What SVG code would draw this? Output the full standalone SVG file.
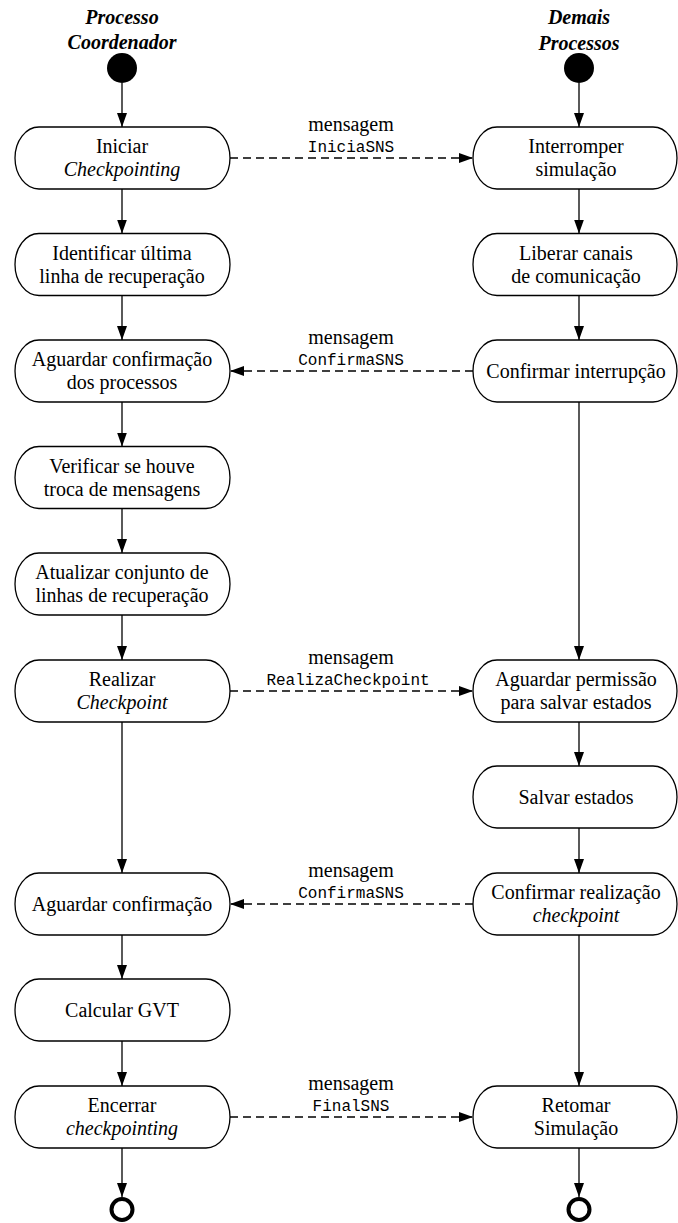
<svg xmlns="http://www.w3.org/2000/svg" width="678" height="1223" viewBox="0 0 678 1223">
  <style>
    .node { fill: #fff; stroke: #000; stroke-width: 1.3; }
    .txt { font-family: "Liberation Serif", "Times New Roman", serif; font-size: 20px; fill: #000; text-anchor: middle; }
    .it { font-style: italic; }
    .title { font-family: "Liberation Serif", "Times New Roman", serif; font-size: 20px; font-weight: bold; font-style: italic; text-anchor: middle; fill: #000; }
    .mono { font-family: "Liberation Mono", "Courier New", monospace; font-size: 16px; text-anchor: middle; fill: #000; }
    .flow { stroke: #000; stroke-width: 1.3; fill: none; marker-end: url(#arrow); }
    .msg { stroke: #000; stroke-width: 1.6; fill: none; stroke-dasharray: 8 5; marker-end: url(#arrow); }
  </style>
  <defs>
    <marker id="arrow" markerUnits="userSpaceOnUse" markerWidth="14" markerHeight="10" refX="14" refY="5" orient="auto">
      <path d="M0,0 L14,5 L0,10 Z" fill="#000"/>
    </marker>
  </defs>
  <rect width="678" height="1223" fill="#fff"/>

  <!-- lane titles -->
  <g id="title-coordenador">
    <text class="title" x="122" y="24">Processo</text>
    <text class="title" x="122" y="49">Coordenador</text>
  </g>
  <g id="title-demais">
    <text class="title" x="579" y="24">Demais</text>
    <text class="title" x="579" y="50">Processos</text>
  </g>

  <!-- initial states -->
  <g id="start-left"><circle cx="122" cy="68" r="15" fill="#000"/></g>
  <g id="start-right"><circle cx="579" cy="68" r="15" fill="#000"/></g>

  <!-- coordinator activities (left lane) -->
  <g id="iniciar">
    <rect class="node" x="15" y="127" width="215" height="62" rx="24" ry="31"/>
    <text class="txt" x="122" y="153">Iniciar</text>
    <text class="txt it" x="122" y="176">Checkpointing</text>
  </g>
  <g id="identificar">
    <rect class="node" x="15" y="233.5" width="215" height="62" rx="24" ry="31"/>
    <text class="txt" x="122" y="259.5">Identificar última</text>
    <text class="txt" x="122" y="282.5">linha de recuperação</text>
  </g>
  <g id="aguardar-processos">
    <rect class="node" x="15" y="340" width="215" height="62" rx="24" ry="31"/>
    <text class="txt" x="122" y="366">Aguardar confirmação</text>
    <text class="txt" x="122" y="389">dos processos</text>
  </g>
  <g id="verificar">
    <rect class="node" x="15" y="446.5" width="215" height="62" rx="24" ry="31"/>
    <text class="txt" x="122" y="472.5">Verificar se houve</text>
    <text class="txt" x="122" y="495.5">troca de mensagens</text>
  </g>
  <g id="atualizar">
    <rect class="node" x="15" y="553" width="215" height="62" rx="24" ry="31"/>
    <text class="txt" x="122" y="579">Atualizar conjunto de</text>
    <text class="txt" x="122" y="602">linhas de recuperação</text>
  </g>
  <g id="realizar">
    <rect class="node" x="15" y="660" width="215" height="62" rx="24" ry="31"/>
    <text class="txt" x="122" y="686">Realizar</text>
    <text class="txt it" x="122" y="709">Checkpoint</text>
  </g>
  <g id="aguardar-confirmacao">
    <rect class="node" x="15" y="873" width="215" height="62" rx="24" ry="31"/>
    <text class="txt" x="122" y="911">Aguardar confirmação</text>
  </g>
  <g id="calcular-gvt">
    <rect class="node" x="15" y="979" width="215" height="62" rx="24" ry="31"/>
    <text class="txt" x="122" y="1017">Calcular GVT</text>
  </g>
  <g id="encerrar">
    <rect class="node" x="15" y="1086" width="215" height="62" rx="24" ry="31"/>
    <text class="txt" x="122" y="1112">Encerrar</text>
    <text class="txt it" x="122" y="1135">checkpointing</text>
  </g>

  <!-- other processes (right lane) -->
  <g id="interromper">
    <rect class="node" x="473" y="127" width="204" height="62" rx="24" ry="31"/>
    <text class="txt" x="576" y="153">Interromper</text>
    <text class="txt" x="576" y="176">simulação</text>
  </g>
  <g id="liberar">
    <rect class="node" x="473" y="233.5" width="204" height="62" rx="24" ry="31"/>
    <text class="txt" x="576" y="259.5">Liberar canais</text>
    <text class="txt" x="576" y="282.5">de comunicação</text>
  </g>
  <g id="confirmar-interrupcao">
    <rect class="node" x="473" y="340" width="204" height="62" rx="24" ry="31"/>
    <text class="txt" x="576" y="378">Confirmar interrupção</text>
  </g>
  <g id="aguardar-permissao">
    <rect class="node" x="473" y="660" width="204" height="62" rx="24" ry="31"/>
    <text class="txt" x="576" y="686">Aguardar permissão</text>
    <text class="txt" x="576" y="709">para salvar estados</text>
  </g>
  <g id="salvar">
    <rect class="node" x="473" y="766" width="204" height="62" rx="24" ry="31"/>
    <text class="txt" x="576" y="804">Salvar estados</text>
  </g>
  <g id="confirmar-realizacao">
    <rect class="node" x="473" y="873" width="204" height="62" rx="24" ry="31"/>
    <text class="txt" x="576" y="899">Confirmar realização</text>
    <text class="txt it" x="576" y="922">checkpoint</text>
  </g>
  <g id="retomar">
    <rect class="node" x="473" y="1086" width="204" height="62" rx="24" ry="31"/>
    <text class="txt" x="576" y="1112">Retomar</text>
    <text class="txt" x="576" y="1135">Simulação</text>
  </g>

  <!-- final states -->
  <g id="end-left"><circle cx="122" cy="1209.5" r="10.5" fill="none" stroke="#000" stroke-width="4"/></g>
  <g id="end-right"><circle cx="579" cy="1209.5" r="10.5" fill="none" stroke="#000" stroke-width="4"/></g>

  <!-- connectors -->
  <g id="connectors">
    <!-- left lane flow -->
    <line class="flow" x1="122" y1="83" x2="122" y2="127"/>
    <line class="flow" x1="122" y1="189" x2="122" y2="233.5"/>
    <line class="flow" x1="122" y1="295.5" x2="122" y2="340"/>
    <line class="flow" x1="122" y1="402" x2="122" y2="446.5"/>
    <line class="flow" x1="122" y1="508.5" x2="122" y2="553"/>
    <line class="flow" x1="122" y1="615" x2="122" y2="660"/>
    <line class="flow" x1="122" y1="722" x2="122" y2="873"/>
    <line class="flow" x1="122" y1="935" x2="122" y2="979"/>
    <line class="flow" x1="122" y1="1041" x2="122" y2="1086"/>
    <line class="flow" x1="122" y1="1148" x2="122" y2="1197"/>
    <!-- right lane flow -->
    <line class="flow" x1="579" y1="83" x2="579" y2="127"/>
    <line class="flow" x1="579" y1="189" x2="579" y2="233.5"/>
    <line class="flow" x1="579" y1="295.5" x2="579" y2="340"/>
    <line class="flow" x1="579" y1="402" x2="579" y2="660"/>
    <line class="flow" x1="579" y1="722" x2="579" y2="766"/>
    <line class="flow" x1="579" y1="828" x2="579" y2="873"/>
    <line class="flow" x1="579" y1="935" x2="579" y2="1086"/>
    <line class="flow" x1="579" y1="1148" x2="579" y2="1197"/>

    <!-- messages between lanes -->
    <line class="msg" x1="230" y1="158" x2="473" y2="158"/>
    <text class="txt" x="351" y="131">mensagem</text>
    <text class="mono" x="351" y="152">IniciaSNS</text>

    <line class="msg" x1="473" y1="371" x2="230" y2="371"/>
    <text class="txt" x="351" y="344">mensagem</text>
    <text class="mono" x="351" y="365">ConfirmaSNS</text>

    <line class="msg" x1="230" y1="691" x2="473" y2="691"/>
    <text class="txt" x="351" y="664">mensagem</text>
    <text class="mono" x="348" y="685">RealizaCheckpoint</text>

    <line class="msg" x1="473" y1="904" x2="230" y2="904"/>
    <text class="txt" x="351" y="877">mensagem</text>
    <text class="mono" x="351" y="898">ConfirmaSNS</text>

    <line class="msg" x1="230" y1="1117" x2="473" y2="1117"/>
    <text class="txt" x="351" y="1090">mensagem</text>
    <text class="mono" x="351" y="1111">FinalSNS</text>
  </g>
</svg>
